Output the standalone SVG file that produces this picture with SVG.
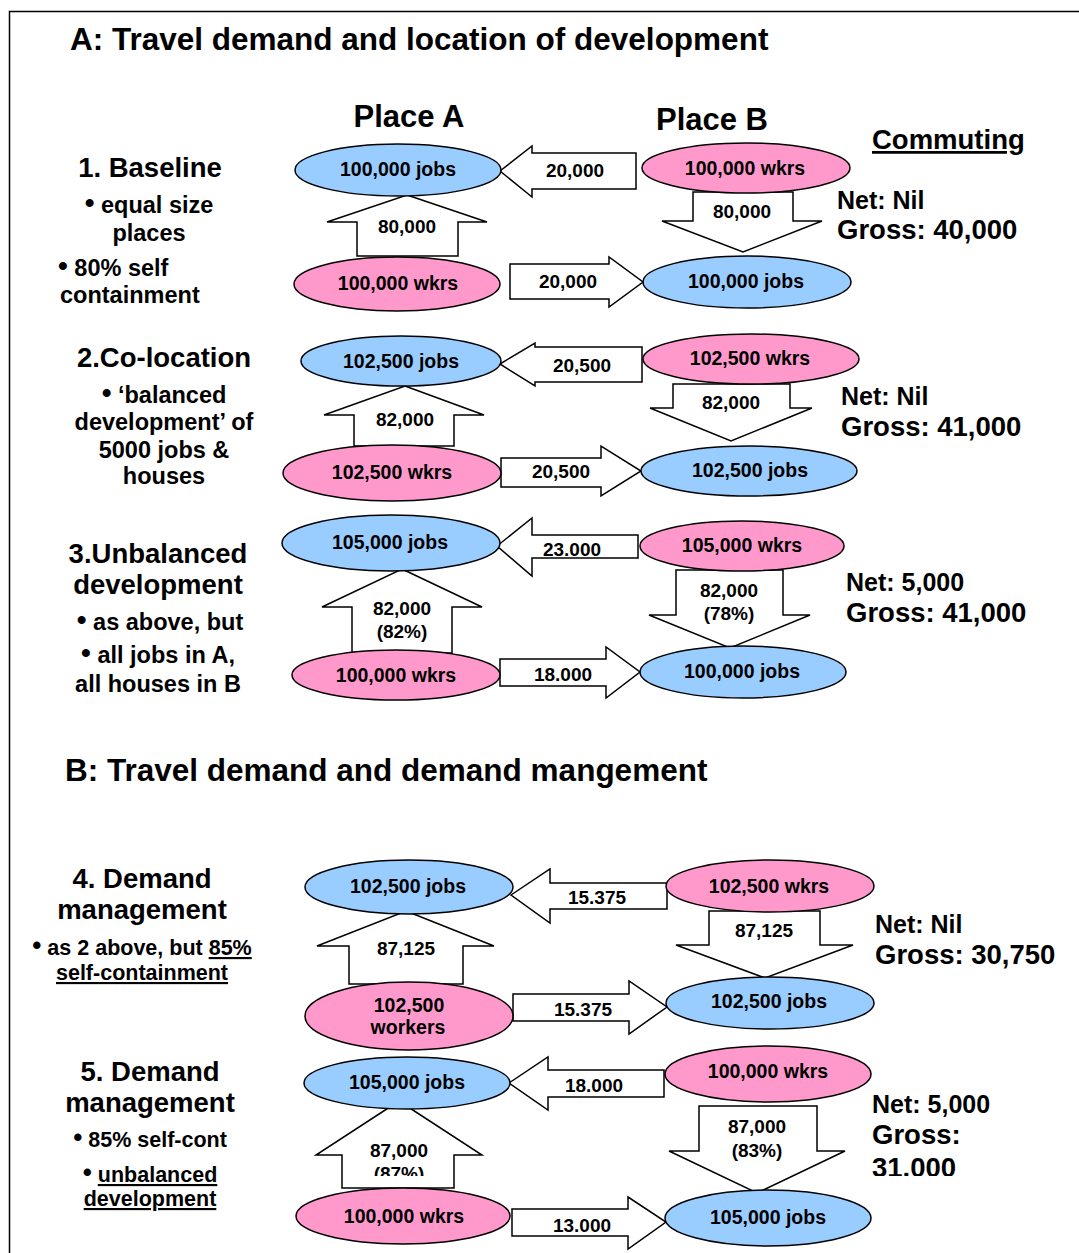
<svg xmlns="http://www.w3.org/2000/svg" width="1079" height="1253" viewBox="0 0 1079 1253">
<style>
text{font-family:"Liberation Sans",Arial,sans-serif;font-weight:bold;fill:#000}
.ttl{font-size:31.5px}
.place{font-size:31px}
.head{font-size:27.5px}
.sub{font-size:23.5px}
.sub2{font-size:21.5px}
.node{font-size:19.5px}
.lbl{font-size:19px}
.net{font-size:25px}
.gross{font-size:27.5px}
.jobs{fill:#99CCFF;stroke:#000;stroke-width:1.5}
.wkrs{fill:#FF99CC;stroke:#000;stroke-width:1.5}
.arr{fill:#fff;stroke:#000;stroke-width:1.5;stroke-linejoin:miter}
.u{text-decoration:underline}
.b1{font-size:28px}
.b2{font-size:26px}
</style>
<defs>
<clipPath id="cut87"><rect x="300" y="1100" width="200" height="76"/></clipPath>
<clipPath id="cut31"><rect x="860" y="1150" width="200" height="26"/></clipPath>
</defs>
<rect x="9.5" y="11.5" width="1100" height="1300" fill="#fff" stroke="#000" stroke-width="1.5"/>

<g id="titles">
<text class="ttl" x="70" y="50">A: Travel demand and location of development</text>
<text class="place" x="409" y="127" text-anchor="middle">Place A</text>
<text class="place" x="712" y="130" text-anchor="middle">Place B</text>
<text class="head" x="872" y="149"><tspan class="u">Commuting</tspan></text>
<text class="ttl" x="65" y="781">B: Travel demand and demand mangement</text>
</g>

<g id="scenario-labels">
<text class="head" x="150" y="177" text-anchor="middle">1. Baseline</text>
<text class="sub" x="149" y="213" text-anchor="middle"><tspan class="b1" dy="-1">•</tspan><tspan dy="1"> equal size</tspan></text>
<text class="sub" x="149" y="241" text-anchor="middle">places</text>
<text class="sub" x="58" y="276"><tspan class="b1" dy="-1">•</tspan><tspan dy="1"> 80% self</tspan></text>
<text class="sub" x="60" y="303">containment</text>

<text class="head" x="164" y="367" text-anchor="middle">2.Co-location</text>
<text class="sub" x="164" y="403" text-anchor="middle"><tspan class="b1" dy="-1">•</tspan><tspan dy="1"> ‘balanced</tspan></text>
<text class="sub" x="164" y="430" text-anchor="middle">development’ of</text>
<text class="sub" x="164" y="458" text-anchor="middle">5000 jobs &amp;</text>
<text class="sub" x="164" y="484" text-anchor="middle">houses</text>

<text class="head" x="158" y="563" text-anchor="middle">3.Unbalanced</text>
<text class="head" x="158" y="594" text-anchor="middle">development</text>
<text class="sub" x="160" y="630" text-anchor="middle"><tspan class="b1" dy="-1">•</tspan><tspan dy="1"> as above, but</tspan></text>
<text class="sub" x="158" y="663" text-anchor="middle"><tspan class="b1" dy="-1">•</tspan><tspan dy="1"> all jobs in A,</tspan></text>
<text class="sub" x="158" y="692" text-anchor="middle">all houses in B</text>

<text class="head" x="142" y="888" text-anchor="middle">4. Demand</text>
<text class="head" x="142" y="919" text-anchor="middle">management</text>
<text class="sub2" x="142" y="955" text-anchor="middle"><tspan class="b2" dy="-1">•</tspan><tspan dy="1"> as 2 above, but </tspan><tspan class="u">85%</tspan></text>
<text class="sub2" x="142" y="980" text-anchor="middle"><tspan class="u">self-containment</tspan></text>

<text class="head" x="150" y="1081" text-anchor="middle">5. Demand</text>
<text class="head" x="150" y="1112" text-anchor="middle">management</text>
<text class="sub2" x="150" y="1147" text-anchor="middle"><tspan class="b2" dy="-1">•</tspan><tspan dy="1"> 85% self-cont</tspan></text>
<text class="sub2" x="150" y="1182" text-anchor="middle"><tspan class="b2" dy="-1">•</tspan><tspan dy="1"> </tspan><tspan class="u">unbalanced</tspan></text>
<text class="sub2" x="150" y="1206" text-anchor="middle"><tspan class="u">development</tspan></text>
</g>

<g id="commuting-totals">
<text class="net" x="837" y="209">Net: Nil</text>
<text class="gross" x="837" y="239">Gross: 40,000</text>
<text class="net" x="841" y="405">Net: Nil</text>
<text class="gross" x="841" y="436">Gross: 41,000</text>
<text class="net" x="846" y="591">Net: 5,000</text>
<text class="gross" x="846" y="622">Gross: 41,000</text>
<text class="net" x="875" y="933">Net: Nil</text>
<text class="gross" x="875" y="964">Gross: 30,750</text>
<text class="net" x="872" y="1113">Net: 5,000</text>
<text class="gross" x="872" y="1144">Gross:</text>
<text class="gross" x="872" y="1177" clip-path="url(#cut31)">31.000</text>
</g>

<g id="connectors">
<polygon class="arr" points="407,195 487,222 458,222 458,256 357,256 357,222 327,222"/>
<text class="lbl" x="407" y="233" text-anchor="middle">80,000</text>
<polygon class="arr" points="693,192 793,192 793,221 822,221 743,252 662,221 693,221"/>
<text class="lbl" x="742" y="218" text-anchor="middle">80,000</text>
<polygon class="arr" points="500,171 532,146 532,153 636,153 636,189 532,189 532,197"/>
<text class="lbl" x="575" y="177" text-anchor="middle">20,000</text>
<polygon class="arr" points="510,264 609,264 609,257 643,282 609,307 609,299 510,299"/>
<text class="lbl" x="568" y="288" text-anchor="middle">20,000</text>

<polygon class="arr" points="405,386 484,415 454,415 454,446 354,446 354,415 324,415"/>
<text class="lbl" x="405" y="426" text-anchor="middle">82,000</text>
<polygon class="arr" points="673,384 790,384 790,408 812,408 731,441 650,408 673,408"/>
<text class="lbl" x="731" y="409" text-anchor="middle">82,000</text>
<polygon class="arr" points="500,364 535,343 535,347 642,347 642,382 535,382 535,386"/>
<text class="lbl" x="582" y="372" text-anchor="middle">20,500</text>
<polygon class="arr" points="501,458 601,458 601,446 641,471 601,496 601,487 501,487"/>
<text class="lbl" x="561" y="478" text-anchor="middle">20,500</text>

<polygon class="arr" points="402,569 482,607 452,607 452,653 352,653 352,607 322,607"/>
<text class="lbl" x="402" y="615" text-anchor="middle">82,000</text>
<text class="lbl" x="402" y="638" text-anchor="middle">(82%)</text>
<polygon class="arr" points="676,570 783,570 783,615 810,615 730,648 649,615 676,615"/>
<text class="lbl" x="729" y="597" text-anchor="middle">82,000</text>
<text class="lbl" x="729" y="620" text-anchor="middle">(78%)</text>
<polygon class="arr" points="497,546 532,518 532,535 638,535 638,558 532,558 532,576"/>
<text class="lbl" x="572" y="556" text-anchor="middle">23.000</text>
<polygon class="arr" points="500,659 606,659 606,647 640,672 606,698 606,686 500,686"/>
<text class="lbl" x="563" y="681" text-anchor="middle">18.000</text>

<polygon class="arr" points="406,911 494,946 463,946 463,984 349,984 349,946 317,946"/>
<text class="lbl" x="406" y="955" text-anchor="middle">87,125</text>
<polygon class="arr" points="709,911 820,911 820,945 853,945 765,978 676,945 709,945"/>
<text class="lbl" x="764" y="937" text-anchor="middle">87,125</text>
<polygon class="arr" points="511,895 550,869 550,883 667,883 667,909 550,909 550,923"/>
<text class="lbl" x="597" y="904" text-anchor="middle">15.375</text>
<polygon class="arr" points="513,994 629,994 629,981 667,1007 629,1034 629,1021 513,1021"/>
<text class="lbl" x="583" y="1016" text-anchor="middle">15.375</text>

<polygon class="arr" points="399,1101 482,1155 454,1155 454,1188 342,1188 342,1155 316,1155"/>
<text class="lbl" x="399" y="1157" text-anchor="middle">87,000</text>
<text class="lbl" x="399" y="1180" text-anchor="middle" clip-path="url(#cut87)">(87%)</text>
<polygon class="arr" points="699,1106 817,1106 817,1151 845,1151 757,1193 669,1151 699,1151"/>
<text class="lbl" x="757" y="1133" text-anchor="middle">87,000</text>
<text class="lbl" x="757" y="1157" text-anchor="middle">(83%)</text>
<polygon class="arr" points="509,1083 548,1057 548,1070 664,1070 664,1097 548,1097 548,1110"/>
<text class="lbl" x="594" y="1092" text-anchor="middle">18.000</text>
<polygon class="arr" points="512,1209 628,1209 628,1197 666,1222 628,1249 628,1236 512,1236"/>
<text class="lbl" x="582" y="1232" text-anchor="middle">13.000</text>
</g>

<g id="n1-a-jobs"><ellipse class="jobs" cx="398" cy="170" rx="103" ry="26"/><text class="node" x="398" y="176" text-anchor="middle">100,000 jobs</text></g>
<g id="n1-a-wkrs"><ellipse class="wkrs" cx="397" cy="284" rx="103" ry="27"/><text class="node" x="398" y="290" text-anchor="middle">100,000 wkrs</text></g>
<g id="n1-b-wkrs"><ellipse class="wkrs" cx="746" cy="168" rx="104" ry="25"/><text class="node" x="745" y="175" text-anchor="middle">100,000 wkrs</text></g>
<g id="n1-b-jobs"><ellipse class="jobs" cx="747" cy="282" rx="104" ry="26"/><text class="node" x="746" y="288" text-anchor="middle">100,000 jobs</text></g>

<g id="n2-a-jobs"><ellipse class="jobs" cx="401" cy="361" rx="100" ry="25"/><text class="node" x="401" y="368" text-anchor="middle">102,500 jobs</text></g>
<g id="n2-a-wkrs"><ellipse class="wkrs" cx="392" cy="473" rx="109" ry="28"/><text class="node" x="392" y="479" text-anchor="middle">102,500 wkrs</text></g>
<g id="n2-b-wkrs"><ellipse class="wkrs" cx="751" cy="359" rx="108" ry="25"/><text class="node" x="750" y="365" text-anchor="middle">102,500 wkrs</text></g>
<g id="n2-b-jobs"><ellipse class="jobs" cx="749" cy="471" rx="108" ry="25"/><text class="node" x="750" y="477" text-anchor="middle">102,500 jobs</text></g>

<g id="n3-a-jobs"><ellipse class="jobs" cx="391" cy="543" rx="109" ry="28"/><text class="node" x="390" y="549" text-anchor="middle">105,000 jobs</text></g>
<g id="n3-a-wkrs"><ellipse class="wkrs" cx="396" cy="675" rx="104" ry="25"/><text class="node" x="396" y="682" text-anchor="middle">100,000 wkrs</text></g>
<g id="n3-b-wkrs"><ellipse class="wkrs" cx="742" cy="546" rx="102" ry="25"/><text class="node" x="742" y="552" text-anchor="middle">105,000 wkrs</text></g>
<g id="n3-b-jobs"><ellipse class="jobs" cx="743" cy="672" rx="103" ry="26"/><text class="node" x="742" y="678" text-anchor="middle">100,000 jobs</text></g>

<g id="n4-a-jobs"><ellipse class="jobs" cx="409" cy="887" rx="104" ry="27"/><text class="node" x="408" y="893" text-anchor="middle">102,500 jobs</text></g>
<g id="n4-a-wkrs"><ellipse class="wkrs" cx="409" cy="1016" rx="104" ry="34"/><text class="node" x="409" y="1012" text-anchor="middle">102,500</text><text class="node" x="408" y="1034" text-anchor="middle">workers</text></g>
<g id="n4-b-wkrs"><ellipse class="wkrs" cx="770" cy="886" rx="104" ry="26"/><text class="node" x="769" y="893" text-anchor="middle">102,500 wkrs</text></g>
<g id="n4-b-jobs"><ellipse class="jobs" cx="770" cy="1003" rx="104" ry="26"/><text class="node" x="769" y="1008" text-anchor="middle">102,500 jobs</text></g>

<g id="n5-a-jobs"><ellipse class="jobs" cx="407" cy="1083" rx="103" ry="26"/><text class="node" x="407" y="1089" text-anchor="middle">105,000 jobs</text></g>
<g id="n5-a-wkrs"><ellipse class="wkrs" cx="403" cy="1216" rx="107" ry="28"/><text class="node" x="404" y="1223" text-anchor="middle">100,000 wkrs</text></g>
<g id="n5-b-wkrs"><ellipse class="wkrs" cx="768" cy="1074" rx="103" ry="28"/><text class="node" x="768" y="1078" text-anchor="middle">100,000 wkrs</text></g>
<g id="n5-b-jobs"><ellipse class="jobs" cx="768" cy="1218" rx="103" ry="28"/><text class="node" x="768" y="1224" text-anchor="middle">105,000 jobs</text></g>
</svg>
